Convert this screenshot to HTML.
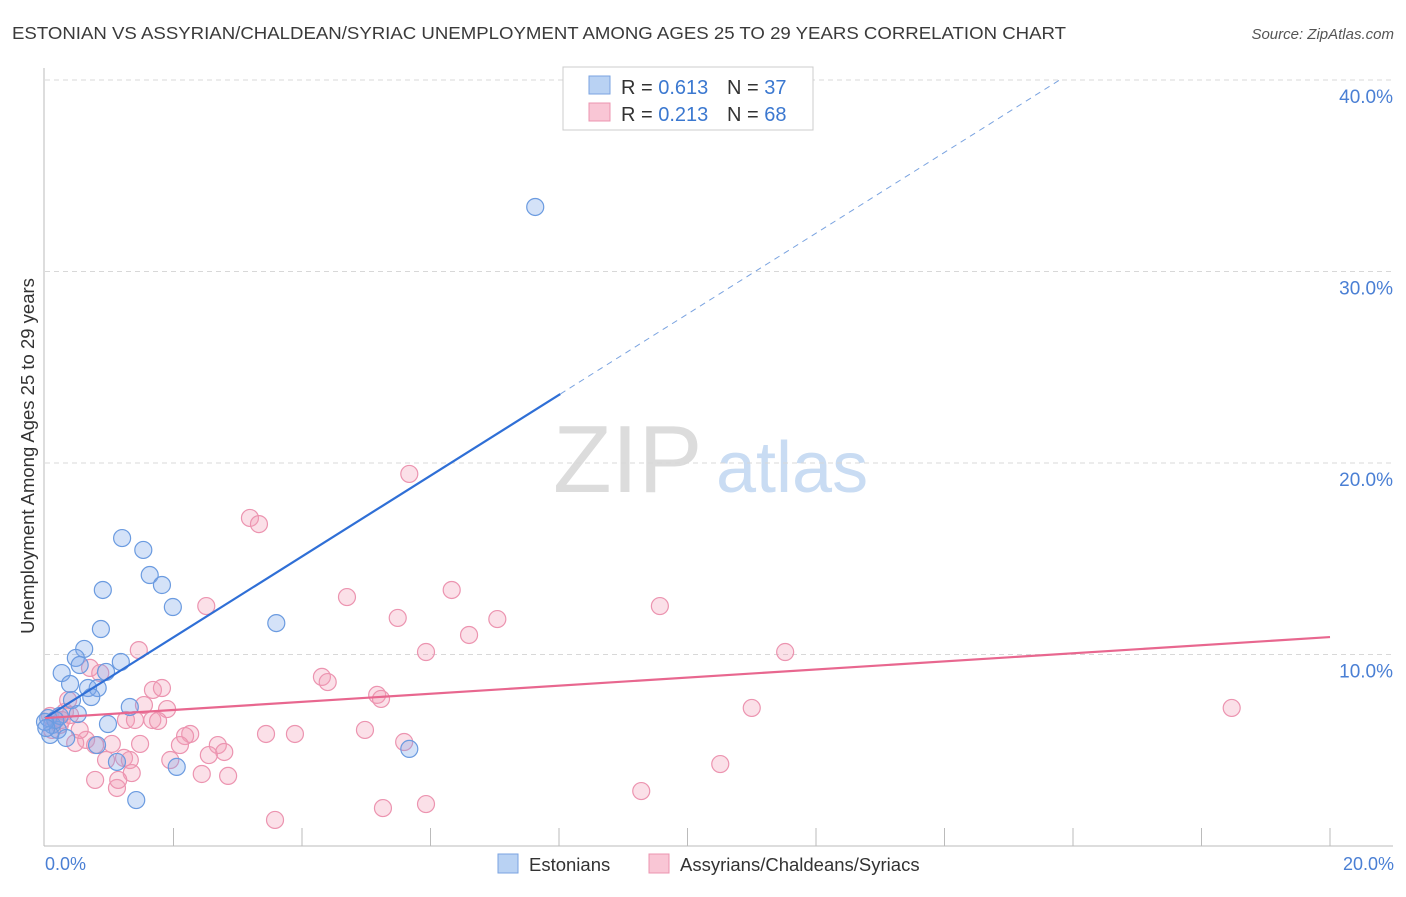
<!DOCTYPE html>
<html><head><meta charset="utf-8"><style>
body{margin:0;background:#fff;font-family:"Liberation Sans",sans-serif;}
svg text{font-family:"Liberation Sans",sans-serif;}
</style></head><body>
<svg id="chart" width="1406" height="892" xmlns="http://www.w3.org/2000/svg">
<text x="12" y="39" font-size="17.5" fill="#3a3a3a" textLength="1054" lengthAdjust="spacingAndGlyphs">ESTONIAN VS ASSYRIAN/CHALDEAN/SYRIAC UNEMPLOYMENT AMONG AGES 25 TO 29 YEARS CORRELATION CHART</text>
<text x="1394" y="39" font-size="15" fill="#555" text-anchor="end" font-style="italic">Source: ZipAtlas.com</text>
<g>
<text x="553" y="492" font-family="Liberation Serif" font-size="96" fill="#dcdcdc">ZIP</text>
<text x="716" y="492" font-size="72" fill="#c9dcf3">atlas</text>
</g>
<g id="grid"></g>
<line x1="44" y1="68" x2="44" y2="846" stroke="#bbb"/>
<line x1="44" y1="846" x2="1393" y2="846" stroke="#bbb"/>
<g id="xticks"></g>
<text x="34" y="456" font-size="18.5" fill="#333" text-anchor="middle" transform="rotate(-90 34 456)">Unemployment Among Ages 25 to 29 years</text>
<g id="ylabels"></g>
<text x="45" y="870" font-size="18" fill="#4a7fd4">0.0%</text>
<text x="1394" y="870" font-size="18" fill="#4a7fd4" text-anchor="end">20.0%</text>
<g id="pink"></g>
<g id="blue"></g>
<g id="lines"></g>
<g>
<rect x="563" y="67" width="250" height="63" fill="#fff" stroke="#ccc"/>
<rect x="589" y="76" width="21" height="18" fill="#b9d2f3" stroke="#7aa3e0"/>
<text x="621" y="94" font-size="20" fill="#333">R = <tspan fill="#3b78d0">0.613</tspan></text>
<text x="727" y="94" font-size="20" fill="#333">N = <tspan fill="#3b78d0">37</tspan></text>
<rect x="589" y="103" width="21" height="18" fill="#f9c6d5" stroke="#ec94b0"/>
<text x="621" y="121" font-size="20" fill="#333">R = <tspan fill="#3b78d0">0.213</tspan></text>
<text x="727" y="121" font-size="20" fill="#333">N = <tspan fill="#3b78d0">68</tspan></text>
</g>
<g>
<rect x="498" y="854" width="20" height="19" fill="#b9d2f3" stroke="#7aa3e0"/>
<text x="529" y="871" font-size="18.5" fill="#333">Estonians</text>
<rect x="649" y="854" width="20" height="19" fill="#f9c6d5" stroke="#ec94b0"/>
<text x="680" y="871" font-size="18.5" fill="#333">Assyrians/Chaldeans/Syriacs</text>
</g>
</svg>
<script>
const yTicks=[10,20,30,40];
const xTicks=[0,2,4,6,8,10,12,14,16,18,20];
const blueX=[7.63,1.20,1.53,1.63,1.82,1.99,0.90,3.60,0.87,0.61,0.48,1.18,0.26,0.54,0.95,0.39,0.67,0.82,0.72,0.42,0.51,1.32,0.98,0.05,0.11,0.20,0.08,0.33,0.81,1.12,2.05,5.67,1.42,0.23,0.16,0.0,0.02];
const blueY=[33.37,16.08,15.46,14.15,13.63,12.48,13.37,11.64,11.33,10.29,9.82,9.61,9.03,9.45,9.09,8.46,8.25,8.25,7.78,7.62,6.89,7.26,6.37,6.68,6.32,6.06,5.80,5.64,5.27,4.39,4.13,5.07,2.40,6.79,6.58,6.48,6.16];
const pinkX=[5.67,3.19,3.33,2.51,4.70,6.33,5.49,7.04,9.57,6.60,5.93,11.52,1.46,0.70,0.86,4.31,4.40,1.68,1.82,5.17,5.23,1.54,1.90,1.26,1.40,1.67,1.76,18.47,11.00,4.98,3.44,3.89,2.26,2.18,2.10,1.48,1.04,0.64,0.47,5.59,2.69,2.79,2.55,1.23,1.32,0.95,1.95,10.51,1.35,2.44,2.85,0.78,1.12,1.14,9.28,5.93,5.26,3.58,0.23,0.16,0.31,0.36,0.54,0.78,0.08,0.26,0.11,0.39];
const pinkY=[19.43,17.13,16.81,12.53,13.00,13.37,11.91,11.85,12.53,11.02,10.13,10.13,10.23,9.30,9.03,8.83,8.56,8.15,8.25,7.89,7.68,7.36,7.15,6.58,6.58,6.58,6.53,7.21,7.21,6.06,5.85,5.85,5.85,5.74,5.27,5.33,5.33,5.54,5.38,5.43,5.27,4.91,4.75,4.60,4.49,4.49,4.49,4.28,3.81,3.76,3.66,3.45,3.03,3.45,2.87,2.19,1.98,1.36,6.32,6.58,7.00,7.62,6.06,5.27,6.79,6.58,6.06,6.84];
const blueTrend=[6.68,2.11];
const pinkTrend=[6.68,0.2115];
const NS="http://www.w3.org/2000/svg";
const sx=v=>45+v*64.25, sy=v=>846-v*19.15;
function mk(t,a){const e=document.createElementNS(NS,t);for(const k in a)e.setAttribute(k,a[k]);return e;}
const grid=document.getElementById('grid'),yl=document.getElementById('ylabels');
yTicks.forEach(t=>{
 const l=mk('line',{x1:45,x2:1393,y1:sy(t),y2:sy(t),stroke:'#d8d8d8','stroke-dasharray':'5,4'});
 
 
 grid.appendChild(l);
 const tx=mk('text',{x:1393,y:sy(t)+23,'font-size':19,fill:'#4a7fd4','text-anchor':'end'});
 tx.textContent=t.toFixed(1)+'%';
 
 
 yl.appendChild(tx);
});
const xt=document.getElementById('xticks');
xTicks.slice(1).forEach(t=>{
 const l=mk('line',{x1:sx(t),x2:sx(t),y1:828,y2:846,stroke:'#bbb'});
 
 
 xt.appendChild(l);
});
function pts(id,X,Y,fill,stroke){const g=document.getElementById(id);
 X.forEach((x,i)=>{const c=mk('circle',{cx:sx(x),cy:sy(Y[i]),r:8.5,fill:fill,stroke:stroke,'stroke-width':1.2});
 
 
 g.appendChild(c);});}
pts('pink',pinkX,pinkY,'rgba(244,160,185,0.32)','#ec94b0');
pts('blue',blueX,blueY,'rgba(120,165,232,0.32)','#6b9be0');
const lg=document.getElementById('lines');
function ln(x1,x2,tr,col,w,dash,name){const a={x1:sx(x1),x2:sx(x2),y1:sy(tr[0]+tr[1]*x1),y2:sy(tr[0]+tr[1]*x2),stroke:col,'stroke-width':w};if(dash)a['stroke-dasharray']=dash;const l=mk('line',a);
 
 
 lg.appendChild(l);}
ln(0,8.02,blueTrend,'#2f6fd6',2.2,null,'estonians-trend-line');
ln(8.02,15.8,blueTrend,'#7aa3e0',1,'6,5','estonians-trend-extension');
ln(0,20,pinkTrend,'#e8678f',2.2,null,'assyrians-trend-line');
</script>
</body></html>
